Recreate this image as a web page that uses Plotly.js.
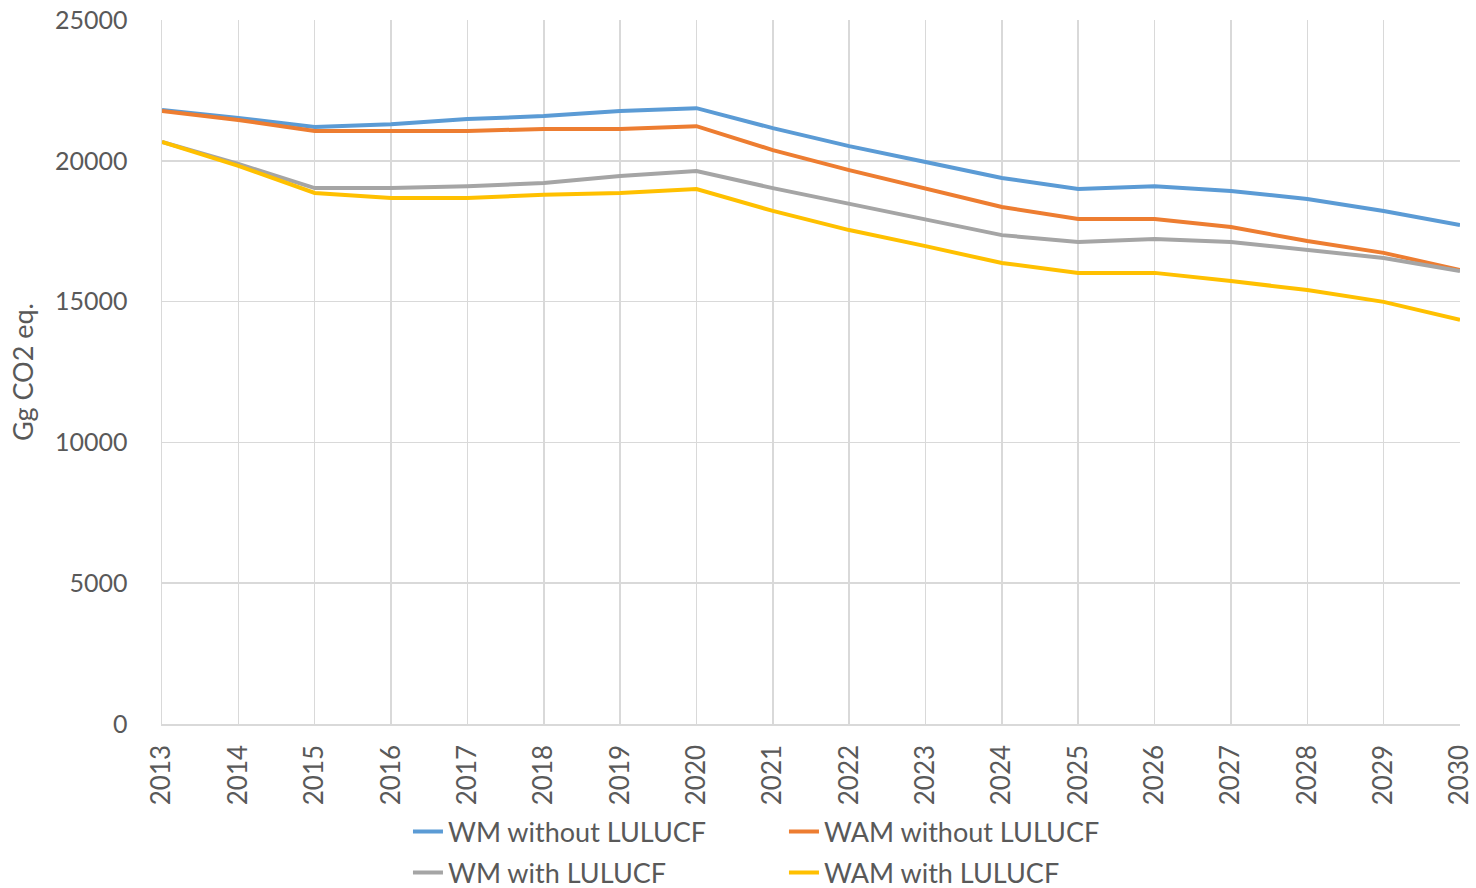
<!DOCTYPE html>
<html>
<head>
<meta charset="utf-8">
<script src="https://cdn.plot.ly/plotly-3.0.1.min.js"></script>
<style>html,body{margin:0;padding:0;background:#fff;}#chart{width:1476px;height:888px;}</style>
</head>
<body>
<div id="chart"></div>
<script>
var years = [2013,2014,2015,2016,2017,2018,2019,2020,2021,2022,2023,2024,2025,2026,2027,2028,2029,2030];
var yearLabels = years.map(String);
var seriesNames = ["WM without LULUCF","WAM without LULUCF","WM with LULUCF","WAM with LULUCF"];
var wmWithout  = [21800,21520,21200,21300,21480,21590,21770,21870,21160,20520,19960,19390,19000,19100,18930,18640,18220,17720];
var wamWithout = [21770,21450,21060,21060,21060,21130,21130,21230,20380,19670,19000,18360,17930,17930,17650,17150,16730,16120];
var wmWith     = [20670,19890,19030,19030,19100,19210,19460,19640,19030,18470,17900,17360,17120,17220,17120,16830,16550,16090];
var wamWith    = [20670,19820,18860,18680,18680,18790,18860,19000,18220,17540,16970,16370,16020,16020,15730,15410,14990,14350];
var colors = ["#5B9BD5","#ED7D31","#A5A5A5","#FFC000"];

var allSeries = [wmWithout, wamWithout, wmWith, wamWith];
var legendIds = ["legend","legend","legend2","legend2"];
var data = allSeries.map(function(vals, i){
  return {
    x: years, y: vals, type: "scatter", mode: "lines",
    name: seriesNames[i],
    line: {color: colors[i], width: 4},
    legend: legendIds[i]
  };
});

var fontFam = "Lato, 'Open Sans', sans-serif";
var legendCommon = {
  orientation: "h",
  xref: "paper",
  yref: "container",
  xanchor: "left",
  yanchor: "middle",
  x: 0.1895,
  font: {family: fontFam, size: 27, color: "#595959"},
  entrywidth: 331,
  entrywidthmode: "pixels",
  bgcolor: "rgba(0,0,0,0)",
  traceorder: "normal"
};

var layout = {
  width: 1476, height: 888,
  margin: {l: 162, r: 16, t: 20, b: 164, autoexpand: false},
  paper_bgcolor: "#ffffff", plot_bgcolor: "#ffffff",
  font: {family: fontFam, color: "#595959"},
  showlegend: true,
  legend: Object.assign({}, legendCommon, {y: 0.0631}),
  legend2: Object.assign({}, legendCommon, {y: 0.0169}),
  xaxis: {
    type: "linear",
    range: [2013, 2030],
    tickvals: years,
    ticktext: yearLabels,
    tickangle: -90,
    tickfont: {family: fontFam, size: 26, color: "#595959"},
    ticklabelstandoff: 9,
    showgrid: true, gridcolor: "#d9d9d9", gridwidth: 1.5,
    showline: true, linecolor: "#d9d9d9", linewidth: 1.5,
    zeroline: false, ticks: "", fixedrange: true, automargin: false
  },
  yaxis: {
    range: [0, 25000],
    dtick: 5000, tick0: 0,
    tickformat: "d",
    tickfont: {family: fontFam, size: 25, color: "#595959"},
    ticklabelstandoff: 28,
    showgrid: true, gridcolor: "#d9d9d9", gridwidth: 1.5,
    showline: true, linecolor: "#d9d9d9", linewidth: 1.5,
    zeroline: false, ticks: "", fixedrange: true, automargin: false,
    title: {text: "Gg CO2 eq.", font: {family: fontFam, size: 27, color: "#595959"}, standoff: 13}
  }
};

Plotly.newPlot("chart", data, layout, {displayModeBar: false, staticPlot: true});
</script>
</body>
</html>
